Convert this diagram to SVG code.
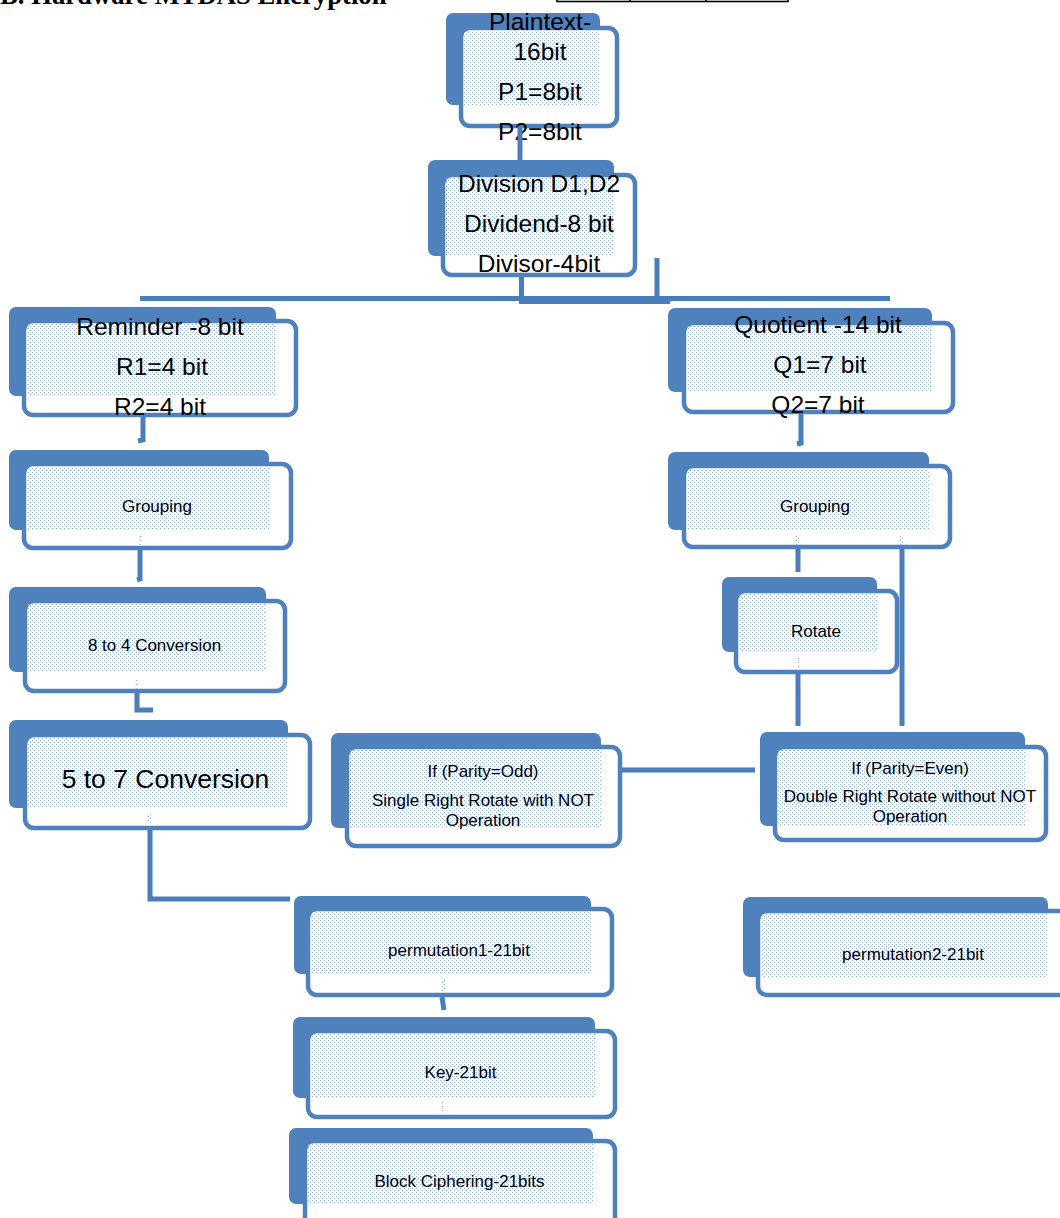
<svg xmlns="http://www.w3.org/2000/svg" width="1060" height="1218" viewBox="0 0 1060 1218">
<defs>
<pattern id="dots" width="4" height="4" patternUnits="userSpaceOnUse">
<rect x="0" y="0" width="1.2" height="1.2" fill="#95b5de"/>
<rect x="2" y="2" width="1.2" height="1.2" fill="#95b5de"/>
</pattern>
</defs>
<style>
.back{fill:#4f81bd}
.front{fill:#ffffff;stroke:#4f81bd;stroke-width:4.5}
.dot{fill:url(#dots)}
.big{font-family:"Liberation Sans",Arial,sans-serif;font-size:24.5px;fill:#000;text-anchor:middle}
.sm{font-family:"Liberation Sans",Arial,sans-serif;font-size:17px;fill:#000;text-anchor:middle}
.conn{fill:none;stroke:#4a7ebb;stroke-width:5}
.title{font-family:"Liberation Serif","Times New Roman",serif;font-size:26.7px;font-weight:bold;fill:#000}
</style>
<rect width="1060" height="1218" fill="#ffffff"/>
<text class="title" x="0" y="4">B. Hardware MTDAS Encryption</text>
<rect x="557" y="-10" width="231" height="11.5" fill="none" stroke="#000" stroke-width="1.6"/>
<line x1="630" y1="-2" x2="630" y2="2" stroke="#000" stroke-width="1.6"/>
<line x1="706" y1="-2" x2="706" y2="2" stroke="#000" stroke-width="1.6"/>

<g id="plaintext">
<rect class="back" x="446" y="13" width="154" height="92" rx="7"/>
<rect class="front" x="461" y="28" width="156" height="98" rx="9"/>
<rect class="dot" x="464" y="31" width="136" height="74"/>
<text class="big" x="540" y="30">Plaintext-</text>
<text class="big" x="540" y="60">16bit</text>
<text class="big" x="540" y="100">P1=8bit</text>
<text class="big" x="540" y="140">P2=8bit</text>
</g>

<g id="division">
<rect class="back" x="428" y="160" width="186" height="96" rx="7"/>
<rect class="front" x="443" y="175" width="192" height="100" rx="9"/>
<rect class="dot" x="446" y="178" width="168" height="78"/>
<text class="big" x="539" y="192">Division D1,D2</text>
<text class="big" x="539" y="232">Dividend-8 bit</text>
<text class="big" x="539" y="272">Divisor-4bit</text>
</g>

<g id="reminder">
<rect class="back" x="9" y="307" width="267" height="89" rx="7"/>
<rect class="front" x="24" y="321" width="272" height="94" rx="9"/>
<rect class="dot" x="27" y="324" width="249" height="72"/>
<text class="big" x="160" y="335">Reminder -8 bit</text>
<text class="big" x="162" y="375">R1=4 bit</text>
<text class="big" x="160" y="415">R2=4 bit</text>
</g>

<g id="quotient">
<rect class="back" x="668" y="308" width="264" height="84" rx="7"/>
<rect class="front" x="684" y="323" width="269" height="89" rx="9"/>
<rect class="dot" x="687" y="326" width="245" height="66"/>
<text class="big" x="818" y="333">Quotient -14 bit</text>
<text class="big" x="820" y="373">Q1=7 bit</text>
<text class="big" x="818" y="413">Q2=7 bit</text>
</g>

<g id="grouping-left">
<rect class="back" x="9" y="450" width="260" height="80" rx="7"/>
<rect class="front" x="24" y="464" width="267" height="84" rx="9"/>
<rect class="dot" x="27" y="467" width="242" height="63"/>
<text class="sm" x="157" y="512">Grouping</text>
</g>

<g id="grouping-right">
<rect class="back" x="668" y="452" width="261" height="78" rx="7"/>
<rect class="front" x="684" y="466" width="266" height="81" rx="9"/>
<rect class="dot" x="687" y="469" width="242" height="61"/>
<text class="sm" x="815" y="512">Grouping</text>
</g>

<g id="conv84">
<rect class="back" x="9" y="587" width="257" height="85" rx="7"/>
<rect class="front" x="25" y="601" width="260" height="90" rx="9"/>
<rect class="dot" x="28" y="604" width="238" height="68"/>
<text class="sm" x="154.5" y="651">8 to 4 Conversion</text>
</g>

<g id="conv57">
<rect class="back" x="9" y="720" width="279" height="88" rx="7"/>
<rect class="front" x="25" y="735" width="285" height="93" rx="9"/>
<rect class="dot" x="28" y="738" width="260" height="70"/>
<text class="big" x="165.5" y="788" style="font-size:26.5px">5 to 7 Conversion</text>
</g>

<g id="rotate">
<rect class="back" x="722" y="577" width="155" height="75" rx="7"/>
<rect class="front" x="736" y="591" width="161" height="81" rx="9"/>
<rect class="dot" x="739" y="594" width="138" height="58"/>
<text class="sm" x="816" y="637">Rotate</text>
</g>

<g id="parity-odd">
<rect class="back" x="331" y="733" width="270" height="95" rx="7"/>
<rect class="front" x="347" y="747" width="273" height="99" rx="9"/>
<rect class="dot" x="350" y="750" width="251" height="78"/>
<text class="sm" x="483" y="777">If (Parity=Odd)</text>
<text class="sm" x="483" y="806">Single Right Rotate with NOT</text>
<text class="sm" x="483" y="826">Operation</text>
</g>

<g id="parity-even">
<rect class="back" x="760" y="732" width="265" height="94" rx="7"/>
<rect class="front" x="775" y="747" width="271" height="93" rx="9"/>
<rect class="dot" x="778" y="750" width="247" height="76"/>
<text class="sm" x="910" y="774">If (Parity=Even)</text>
<text class="sm" x="910" y="802">Double Right Rotate without NOT</text>
<text class="sm" x="910" y="822">Operation</text>
</g>

<g id="permutation1">
<rect class="back" x="294" y="896" width="297" height="78" rx="7"/>
<rect class="front" x="308" y="909" width="304" height="86" rx="9"/>
<rect class="dot" x="311" y="912" width="280" height="62"/>
<text class="sm" x="459" y="956">permutation1-21bit</text>
</g>

<g id="permutation2">
<rect class="back" x="743" y="897" width="305" height="80" rx="7"/>
<rect class="front" x="758" y="911" width="315" height="84" rx="9"/>
<rect class="dot" x="761" y="914" width="287" height="63"/>
<text class="sm" x="913" y="960">permutation2-21bit</text>
</g>

<g id="key">
<rect class="back" x="293" y="1017" width="302" height="81" rx="7"/>
<rect class="front" x="308" y="1031" width="307" height="86" rx="9"/>
<rect class="dot" x="311" y="1034" width="284" height="64"/>
<text class="sm" x="460.5" y="1078">Key-21bit</text>
</g>

<g id="block-ciphering">
<rect class="back" x="289" y="1128" width="304" height="76" rx="7"/>
<rect class="front" x="305" y="1141" width="310" height="100" rx="9"/>
<rect class="dot" x="308" y="1144" width="285" height="60"/>
<text class="sm" x="459.5" y="1187">Block Ciphering-21bits</text>
</g>

<g id="connectors">
<path class="conn" d="M520 126 V160"/>
<path class="conn" d="M521.5 277 V301"/>
<path class="conn" d="M140 298.5 H890"/>
<path class="conn" d="M519 301.5 H670"/>
<path class="conn" d="M657 258 V300"/>
<path class="conn" d="M143 417 V440 L138 441"/>
<path class="conn" d="M140 550 V579 L137 580"/>
<path class="conn" d="M137 693 V710 H153"/>
<path class="conn" d="M150 830 V899 H290"/>
<path class="conn" d="M442 997 L444 1010"/>
<path class="conn" d="M801 414 V443 L797 444"/>
<path class="conn" d="M798 549 V572"/>
<path class="conn" d="M902 549 V726"/>
<path class="conn" d="M798 674 V726"/>
<path class="conn" d="M622 770 H755"/>
<rect class="dot" x="139" y="535" width="3" height="10"/>
<rect class="dot" x="135" y="679" width="3" height="10"/>
<rect class="dot" x="148" y="813" width="3" height="10"/>
<rect class="dot" x="442" y="980" width="3" height="12"/>
<rect class="dot" x="441" y="1102" width="3" height="12"/>
<rect class="dot" x="797" y="656" width="3" height="12"/>
<rect class="dot" x="796" y="535" width="3" height="10"/>
<rect class="dot" x="900" y="535" width="3" height="10"/>
</g>
</svg>
